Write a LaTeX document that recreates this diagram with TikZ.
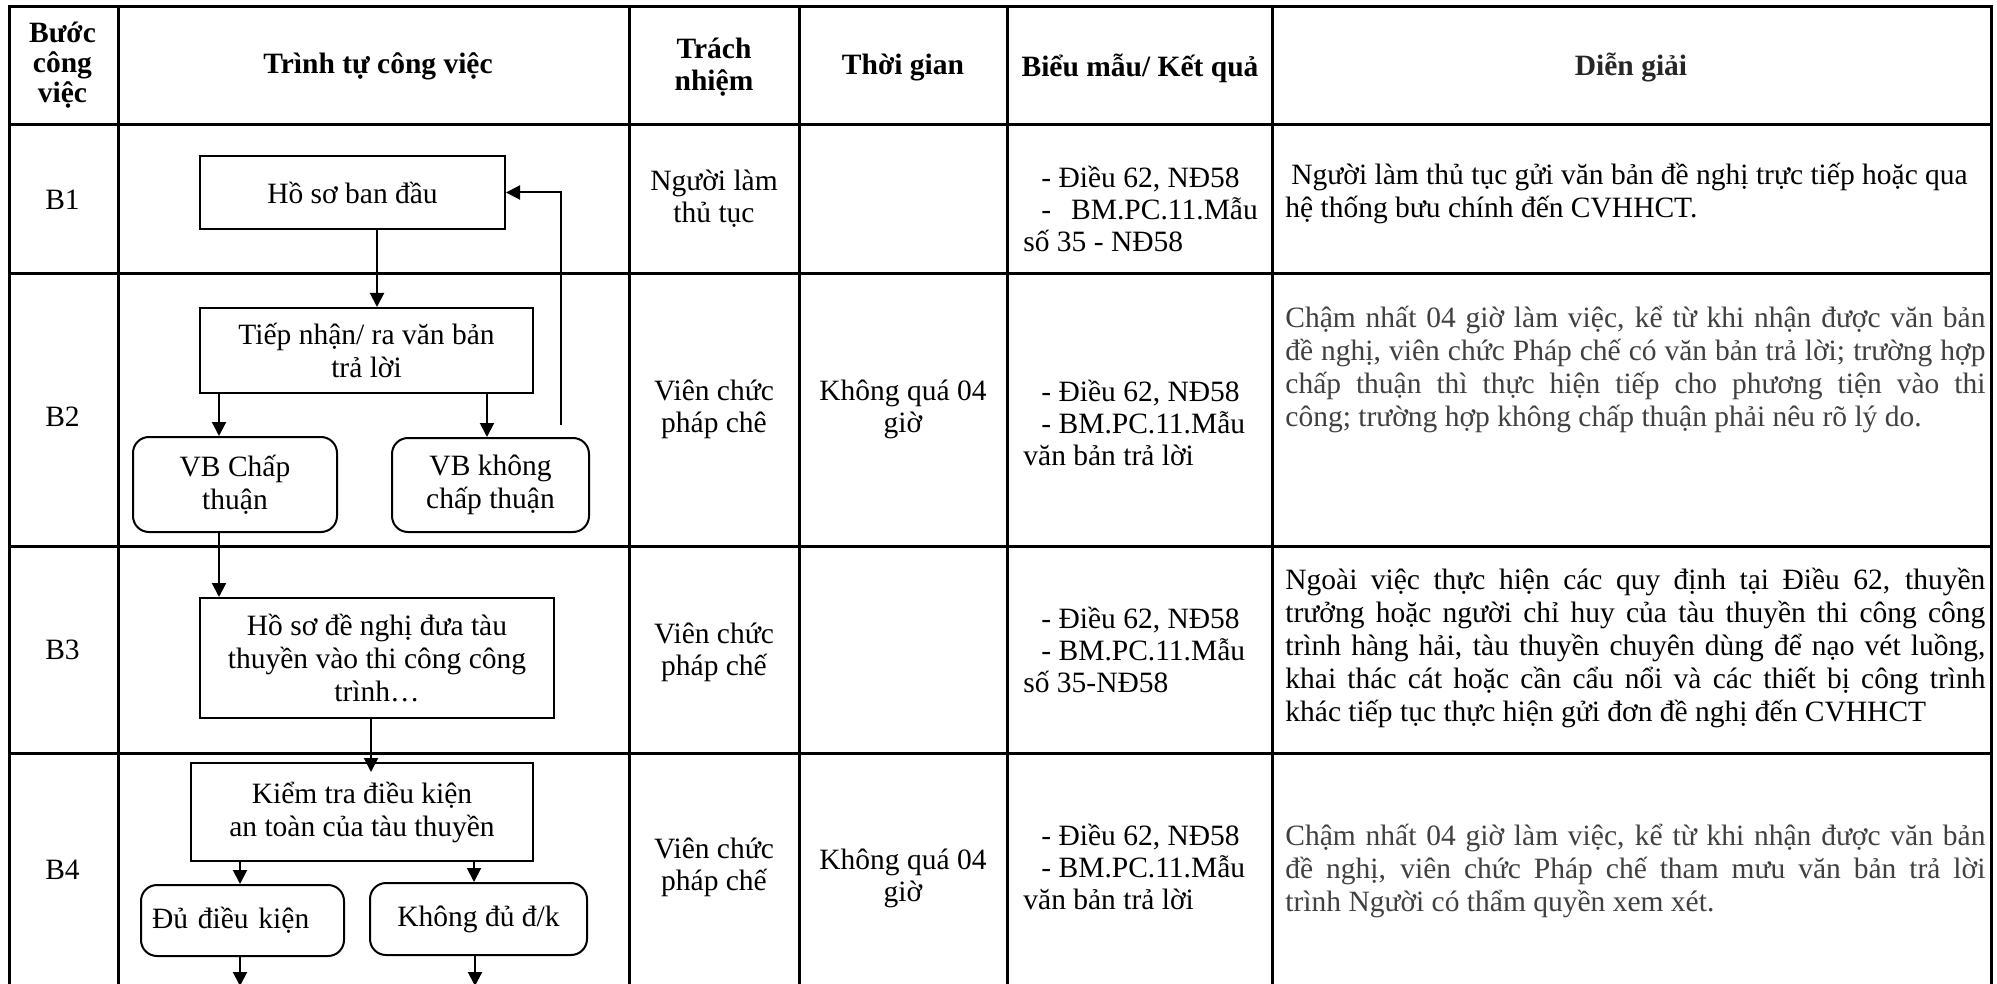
\documentclass[tikz,border=0pt]{standalone}
\usepackage{fontspec}
\setmainfont{Liberation Serif}
\usetikzlibrary{arrows.meta,calc}
\definecolor{dgray}{RGB}{64,64,64}
\newlength\dgw \setlength\dgw{350pt}
\newcommand\jline[1]{\makebox[\dgw][s]{#1}}
\begin{document}
\begin{tikzpicture}[x=0.5pt,y=-0.5pt,
  txt/.style={inner sep=0pt,font=\fontsize{14.75pt}{16pt}\selectfont,align=center},
  ltxt/.style={inner sep=0pt,font=\fontsize{14.75pt}{16pt}\selectfont,align=left,anchor=west},
  dtxt/.style={inner sep=0pt,font=\fontsize{14.75pt}{16.5pt}\selectfont,align=left,anchor=west},
  hdr/.style={inner sep=0pt,font=\fontsize{14.75pt}{16pt}\selectfont\bfseries,align=center},
  grid/.style={line width=1.5pt,line cap=rect},
  fbox/.style={draw,line width=1pt,inner sep=2pt,font=\fontsize{14.75pt}{16.5pt}\selectfont,align=center},
  rbox/.style={fbox,rounded corners=8pt},
  arr/.style={line width=1pt,-{Triangle[length=7pt,width=7pt]}}]
\useasboundingbox (0,0) rectangle (1997,984);
% table grid
\foreach \yy in {7,125,274,546,753} \draw[grid] (9,\yy) -- (1991,\yy);
\foreach \xx in {9,118,629,799,1007,1272,1991} \draw[grid] (\xx,7) -- (\xx,995);
% header
\node[hdr,font=\fontsize{14.75pt}{15pt}\selectfont\bfseries] (h1) at (62.5,65) {Bước\\công\\việc};
\node[hdr] (h2) at (378,66) {Trình tự công việc};
\node[hdr] (h3) at (714,67) {Trách\\nhiệm};
\node[hdr] (h4) at (903,68) {Thời gian};
\node[hdr] (h5) at (1140,68) {Biểu mẫu/ Kết quả};
\node[hdr,text=black!85] (h6) at (1631,68) {Diễn giải};
% step labels
\node[txt] (b1) at (62.5,200) {B1};
\node[txt] (b2) at (62.5,417) {B2};
\node[txt] (b3) at (62.5,650) {B3};
\node[txt] (b4) at (62.5,870) {B4};
% responsibility
\node[txt] (c31) at (714,199) {Người làm\\thủ tục};
\node[txt] (c32) at (714,409) {Viên chức\\pháp chê};
\node[txt] (c33) at (714,652) {Viên chức\\pháp chế};
\node[txt] (c34) at (714,867) {Viên chức\\pháp chế};
% time
\node[txt] (c42) at (903,409) {Không quá 04\\giờ};
\node[txt] (c44) at (903,878) {Không quá 04\\giờ};
% forms
\node[ltxt] (c51) at (1023,209) {\hspace*{9pt}- Điều 62, NĐ58\\\hspace*{9pt}-\hspace*{10pt}BM.PC.11.Mẫu\\số 35 - NĐ58};
\node[ltxt] (c52) at (1023,423) {\hspace*{9pt}- Điều 62, NĐ58\\\hspace*{9pt}- BM.PC.11.Mẫu\\văn bản trả lời};
\node[ltxt] (c53) at (1023,650) {\hspace*{9pt}- Điều 62, NĐ58\\\hspace*{9pt}- BM.PC.11.Mẫu\\số 35-NĐ58};
\node[ltxt] (c54) at (1023,867) {\hspace*{9pt}- Điều 62, NĐ58\\\hspace*{9pt}- BM.PC.11.Mẫu\\văn bản trả lời};
% explanations
\node[dtxt] (d1) at (1285,194) {\hspace*{3pt}Người làm thủ tục gửi văn bản đề nghị trực tiếp hoặc qua\\hệ thống bưu chính đến CVHHCT.};
\node[dtxt,text=dgray] (d2) at (1285,369) {\jline{Chậm nhất 04 giờ làm việc, kể từ khi nhận được văn bản}\\
\jline{đề nghị, viên chức Pháp chế có văn bản trả lời; trường hợp}\\
\jline{chấp thuận thì thực hiện tiếp cho phương tiện vào thi}\\
công; trường hợp không chấp thuận phải nêu rõ lý do.};
\node[dtxt] (d3) at (1285,648) {\jline{Ngoài việc thực hiện các quy định tại Điều 62, thuyền}\\
\jline{trưởng hoặc người chỉ huy của tàu thuyền thi công công}\\
\jline{trình hàng hải, tàu thuyền chuyên dùng để nạo vét luồng,}\\
\jline{khai thác cát hoặc cần cẩu nổi và các thiết bị công trình}\\
khác tiếp tục thực hiện gửi đơn đề nghị đến CVHHCT};
\node[dtxt,text=dgray] (d4) at (1285,871) {\jline{Chậm nhất 04 giờ làm việc, kể từ khi nhận được văn bản}\\
\jline{đề nghị, viên chức Pháp chế tham mưu văn bản trả lời}\\
trình Người có thẩm quyền xem xét.};
% flowchart boxes
\node[fbox,minimum width=152.5pt,minimum height=36.5pt] (hs) at (352.5,192.5) {Hồ sơ ban đầu};
\node[fbox,minimum width=166.5pt,minimum height=42.5pt] (tn) at (366.5,350.5) {Tiếp nhận/ ra văn bản\\trả lời};
\node[rbox,minimum width=102pt,minimum height=47.5pt] (vbc) at (235,484.5) {VB Chấp\\thuận};
\node[rbox,minimum width=98.5pt,minimum height=47pt] (vbk) at (490.5,485) {VB không\\chấp thuận};
\node[fbox,minimum width=177pt,minimum height=60pt] (hd) at (377,658) {Hồ sơ đề nghị đưa tàu\\thuyền vào thi công công\\trình…};
\node[fbox,minimum width=171pt,minimum height=49pt] (kt) at (362,812) {Kiểm tra điều kiện\\an toàn của tàu thuyền};
\node[rbox,minimum width=101.5pt,minimum height=35.5pt,text width=90.5pt,inner xsep=5.5pt,align=left] (du) at (242.5,920.5) {Đủ điều kiện};
\node[rbox,minimum width=108.5pt,minimum height=36pt] (kd) at (478.5,919) {Không đủ đ/k};
% connector helpers
\coordinate (x377) at (377,0);
\coordinate (x219) at (219,0);
\coordinate (x487) at (487,0);
\coordinate (x371) at (371,0);
\coordinate (x240) at (240,0);
\coordinate (x474) at (474,0);
\coordinate (x475) at (475,0);
\coordinate (fb) at (561,425);
\coordinate (e1) at (240,986);
\coordinate (e2) at (475,986);
% connectors
\draw[arr] (hs.south -| x377) -- (tn.north -| x377);
\draw[arr] (tn.south -| x219) -- (vbc.north -| x219);
\draw[arr] (tn.south -| x487) -- (vbk.north -| x487);
\draw[arr] (fb) |- (hs.east);
\draw[arr] (vbc.south -| x219) -- (hd.north -| x219);
\draw[arr,shorten >=-5pt] (hd.south -| x371) -- (kt.north -| x371);
\draw[arr] (kt.south -| x240) -- (du.north -| x240);
\draw[arr] (kt.south -| x474) -- (kd.north -| x474);
\draw[arr] (du.south -| x240) -- (e1);
\draw[arr] (kd.south -| x475) -- (e2);
\end{tikzpicture}
\end{document}
